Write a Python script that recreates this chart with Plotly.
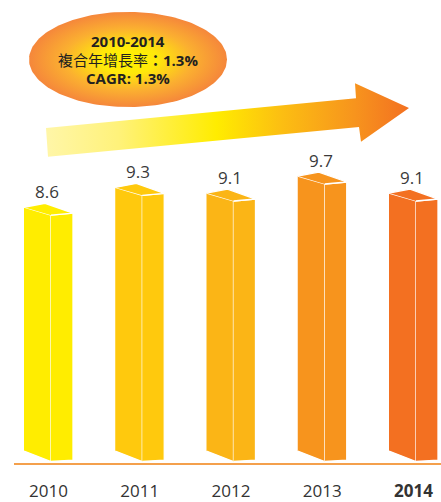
import numpy as np
import plotly.graph_objects as go

# ---------------- data ----------------
years = ["2010", "2011", "2012", "2013", "2014"]
values = [8.6, 9.3, 9.1, 9.7, 9.1]
value_labels = ["8.6", "9.3", "9.1", "9.7", "9.1"]
tick_labels = ["2010", "2011", "2012", "2013", "<b>2014</b>"]
bar_colors = ["#FFED00", "#FFC90D", "#FBB516", "#F7941D", "#F37021"]
bubble_lines = ["<b>2010-2014</b>", "複合年增長率<b>：1.3%</b>", "<b>CAGR: 1.3%</b>"]

# ---------------- geometry (pixels) ----------------
W, H = 441, 502
LM, MB = 14, 35
PX_X = 91.25          # px per category step
PX_Y = 28.6           # px per value unit
X0 = 48.5             # px centre of first bar
BASE = 455            # px of value 0 (front-left bottom corner)
AXIS = 467            # px of axis line

xr = [(LM - X0) / PX_X, (W - X0) / PX_X]
yr = [-(AXIS - BASE) / PX_Y, BASE / PX_Y]

FONT = "Open Sans, Noto Sans CJK TC, sans-serif"

fig = go.Figure()

FRONT = [(-24.5, 0, True), (2.5, 8, True), (2.5, 10.5, False), (-24.5, 0, False)]
SIDE = [(2.5, 8, True), (24.5, 6, True), (24.5, 9, False), (2.5, 10.5, False)]
TOP = [(-24.5, 0, True), (-3.5, -4, True), (24.5, 6, True), (2.5, 8, True)]

for i, (v, col) in enumerate(zip(values, bar_colors)):
    for face in (FRONT, SIDE, TOP):
        xs = [i + ox / PX_X for ox, oy, top in face]
        ys = [(v if top else 0) - oy / PX_Y for ox, oy, top in face]
        fig.add_trace(go.Scatter(
            x=xs, y=ys, mode="lines", fill="toself", fillcolor=col,
            line=dict(color="white", width=1.3), hoverinfo="skip",
            showlegend=False))
    fig.add_annotation(x=i, y=v, text=value_labels[i], showarrow=False,
                       yanchor="middle", yshift=16, xshift=-1.5,
                       font=dict(family=FONT, size=17, color="#3a3a3a"))

# ---------------- decorations (pixel overlay axes) ----------------
arrow_px_x = [46, 356, 355, 409, 361, 359, 48]
arrow_px_y = [129, 99, 84, 109, 143, 128, 158]
fig.add_trace(go.Scatter(
    x=arrow_px_x, y=arrow_px_y, xaxis="x2", yaxis="y2", mode="lines",
    fill="toself", line=dict(width=0, color="rgba(0,0,0,0)"),
    fillgradient=dict(type="horizontal", colorscale=[
        [0, "#FFF6A8"], [0.2, "#FFF27A"], [0.47, "#FFEC00"],
        [0.65, "#FCBE12"], [0.85, "#F7941D"], [1, "#F37021"]]),
    hoverinfo="skip", showlegend=False))

t = np.linspace(0, 2 * np.pi, 181)
fig.add_trace(go.Scatter(
    x=128 + 99 * np.cos(t), y=60 + 48 * np.sin(t), xaxis="x2", yaxis="y2",
    mode="lines", fill="toself", line=dict(width=0, color="rgba(0,0,0,0)"),
    fillgradient=dict(type="radial", colorscale=[
        [0, "#FFF200"], [0.3, "#FFE80A"], [0.65, "#FBB030"], [1, "#F5873B"]]),
    hoverinfo="skip", showlegend=False))

for txt, yy in zip(bubble_lines, [41, 61, 79]):
    fig.add_annotation(x=128, y=yy, xref="x2", yref="y2", text=txt,
                       showarrow=False,
                       font=dict(family=FONT, size=15, color="#231F20"))

fig.update_layout(
    width=W, height=H, margin=dict(l=LM, r=0, t=0, b=MB),
    paper_bgcolor="white", plot_bgcolor="white",
    xaxis=dict(range=xr, tickvals=list(range(len(years))), ticktext=tick_labels,
               showgrid=False, zeroline=False, showline=True,
               linecolor="#F4A04C", linewidth=2, ticks="", fixedrange=True,
               ticklabelstandoff=12,
               tickfont=dict(family=FONT, size=17, color="#333333")),
    yaxis=dict(range=yr, visible=False, showgrid=False, zeroline=False),
    xaxis2=dict(range=[LM, W], overlaying="x", visible=False, anchor="y2"),
    yaxis2=dict(range=[AXIS, 0], overlaying="y", visible=False, anchor="x2"),
)

fig.write_html("out.html", config={"displayModeBar": False},
               post_script="document.body.style.margin='0';document.body.style.overflow='hidden';")
